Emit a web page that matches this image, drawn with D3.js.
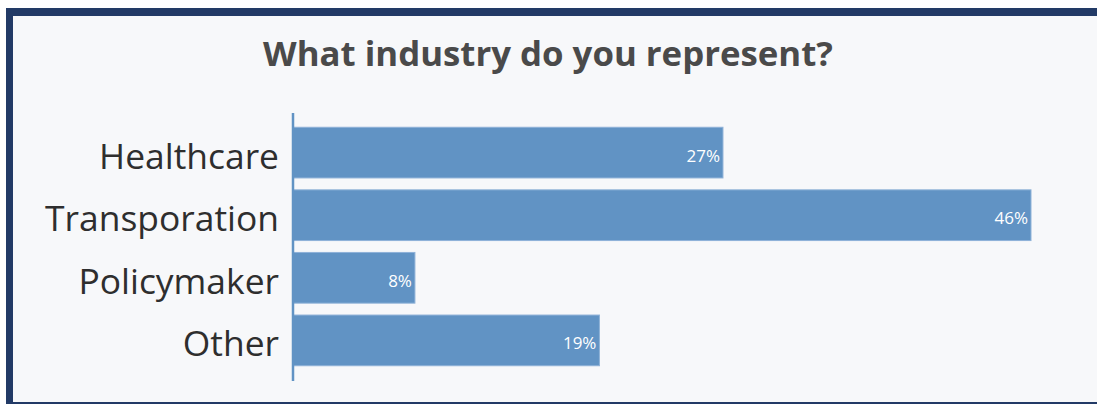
<!DOCTYPE html>
<html>
<head>
<meta charset="utf-8">
<script src="https://cdn.jsdelivr.net/npm/d3@7"></script>
<style>
  html, body { margin: 0; padding: 0; background: #ffffff; }
  svg { display: block; font-family: "Open Sans", "Noto Sans", sans-serif; }
</style>
</head>
<body>
<div id="chart"></div>
<script>
// data
const categories = ["Healthcare", "Transporation", "Policymaker", "Other"];
const shares = [26.8, 46.0, 7.6, 19.1];   // percent of answers
const title = "What industry do you represent?";

var width = 1097,
    height = 404;
var margin = {top: 113, right: 60, bottom: 23, left: 293};

var svg = d3.select("#chart").append("svg")
    .attr("width", width)
    .attr("height", height);

// panel + frame
svg.append("rect")
    .attr("x", 6).attr("y", 8)
    .attr("width", width - 6).attr("height", height - 8)
    .attr("fill", "#f7f8fa");
svg.append("rect")   // top bar
    .attr("x", 6).attr("y", 8).attr("width", width - 6).attr("height", 8)
    .attr("fill", "#223a66");
svg.append("rect")   // left bar
    .attr("x", 6).attr("y", 8).attr("width", 7).attr("height", height - 8)
    .attr("fill", "#223a66");
svg.append("rect")   // bottom line
    .attr("x", 6).attr("y", height - 2).attr("width", width - 6).attr("height", 2)
    .attr("fill", "#223a66");

// fit a font size so the text spans a given width
function fitSize(txt, target, weight) {
    var t = svg.append("text").attr("font-size", 100).attr("font-weight", weight).text(txt);
    var w = t.node().getComputedTextLength();
    t.remove();
    return 100 * target / w;
}

svg.append("text")
    .attr("x", 548)
    .attr("y", 66)
    .attr("text-anchor", "middle")
    .attr("font-weight", 700)
    .attr("font-size", fitSize(title, 570, 700))
    .attr("fill", "#4a4a4a")
    .text(title);

var x = d3.scaleLinear()
    .domain([0, 46])
    .range([margin.left, 1031]);

var y = d3.scaleBand()
    .domain(categories)
    .range([121, 372])
    .paddingInner(0.19)
    .paddingOuter(0.1);

var data = categories.map((c, i) => ({cat: c, value: shares[i]}));

svg.selectAll("rect.bar")
    .data(data)
    .enter().append("rect")
    .attr("class", "bar")
    .attr("x", x(0))
    .attr("y", d => y(d.cat))
    .attr("width", d => x(d.value) - x(0))
    .attr("height", y.bandwidth())
    .attr("fill", "#6193c4")
    .attr("stroke", "#8fb2d8")
    .attr("stroke-width", 1);

svg.selectAll("text.val")
    .data(data)
    .enter().append("text")
    .attr("class", "val")
    .attr("x", d => x(d.value) - 3)
    .attr("y", d => y(d.cat) + y.bandwidth() / 2 + 3)
    .attr("dy", "0.35em")
    .attr("text-anchor", "end")
    .attr("font-size", 17)
    .attr("fill", "#ffffff")
    .text(d => d3.format(".0f")(d.value) + "%");

var catSize = fitSize("Healthcare", 180, 400);

var yAxis = svg.append("g")
    .attr("transform", "translate(" + margin.left + ",0)")
    .call(d3.axisLeft(y).tickSize(0).tickPadding(14));
yAxis.select(".domain")
    .attr("d", "M0,113V381")
    .attr("stroke", "#6193c4")
    .attr("stroke-width", 2.5);
yAxis.selectAll("text")
    .attr("font-size", catSize)
    .attr("dy", "0.45em")
    .attr("font-family", "'Open Sans', 'Noto Sans', sans-serif")
    .attr("fill", "#2e2e2e");
</script>
</body>
</html>
